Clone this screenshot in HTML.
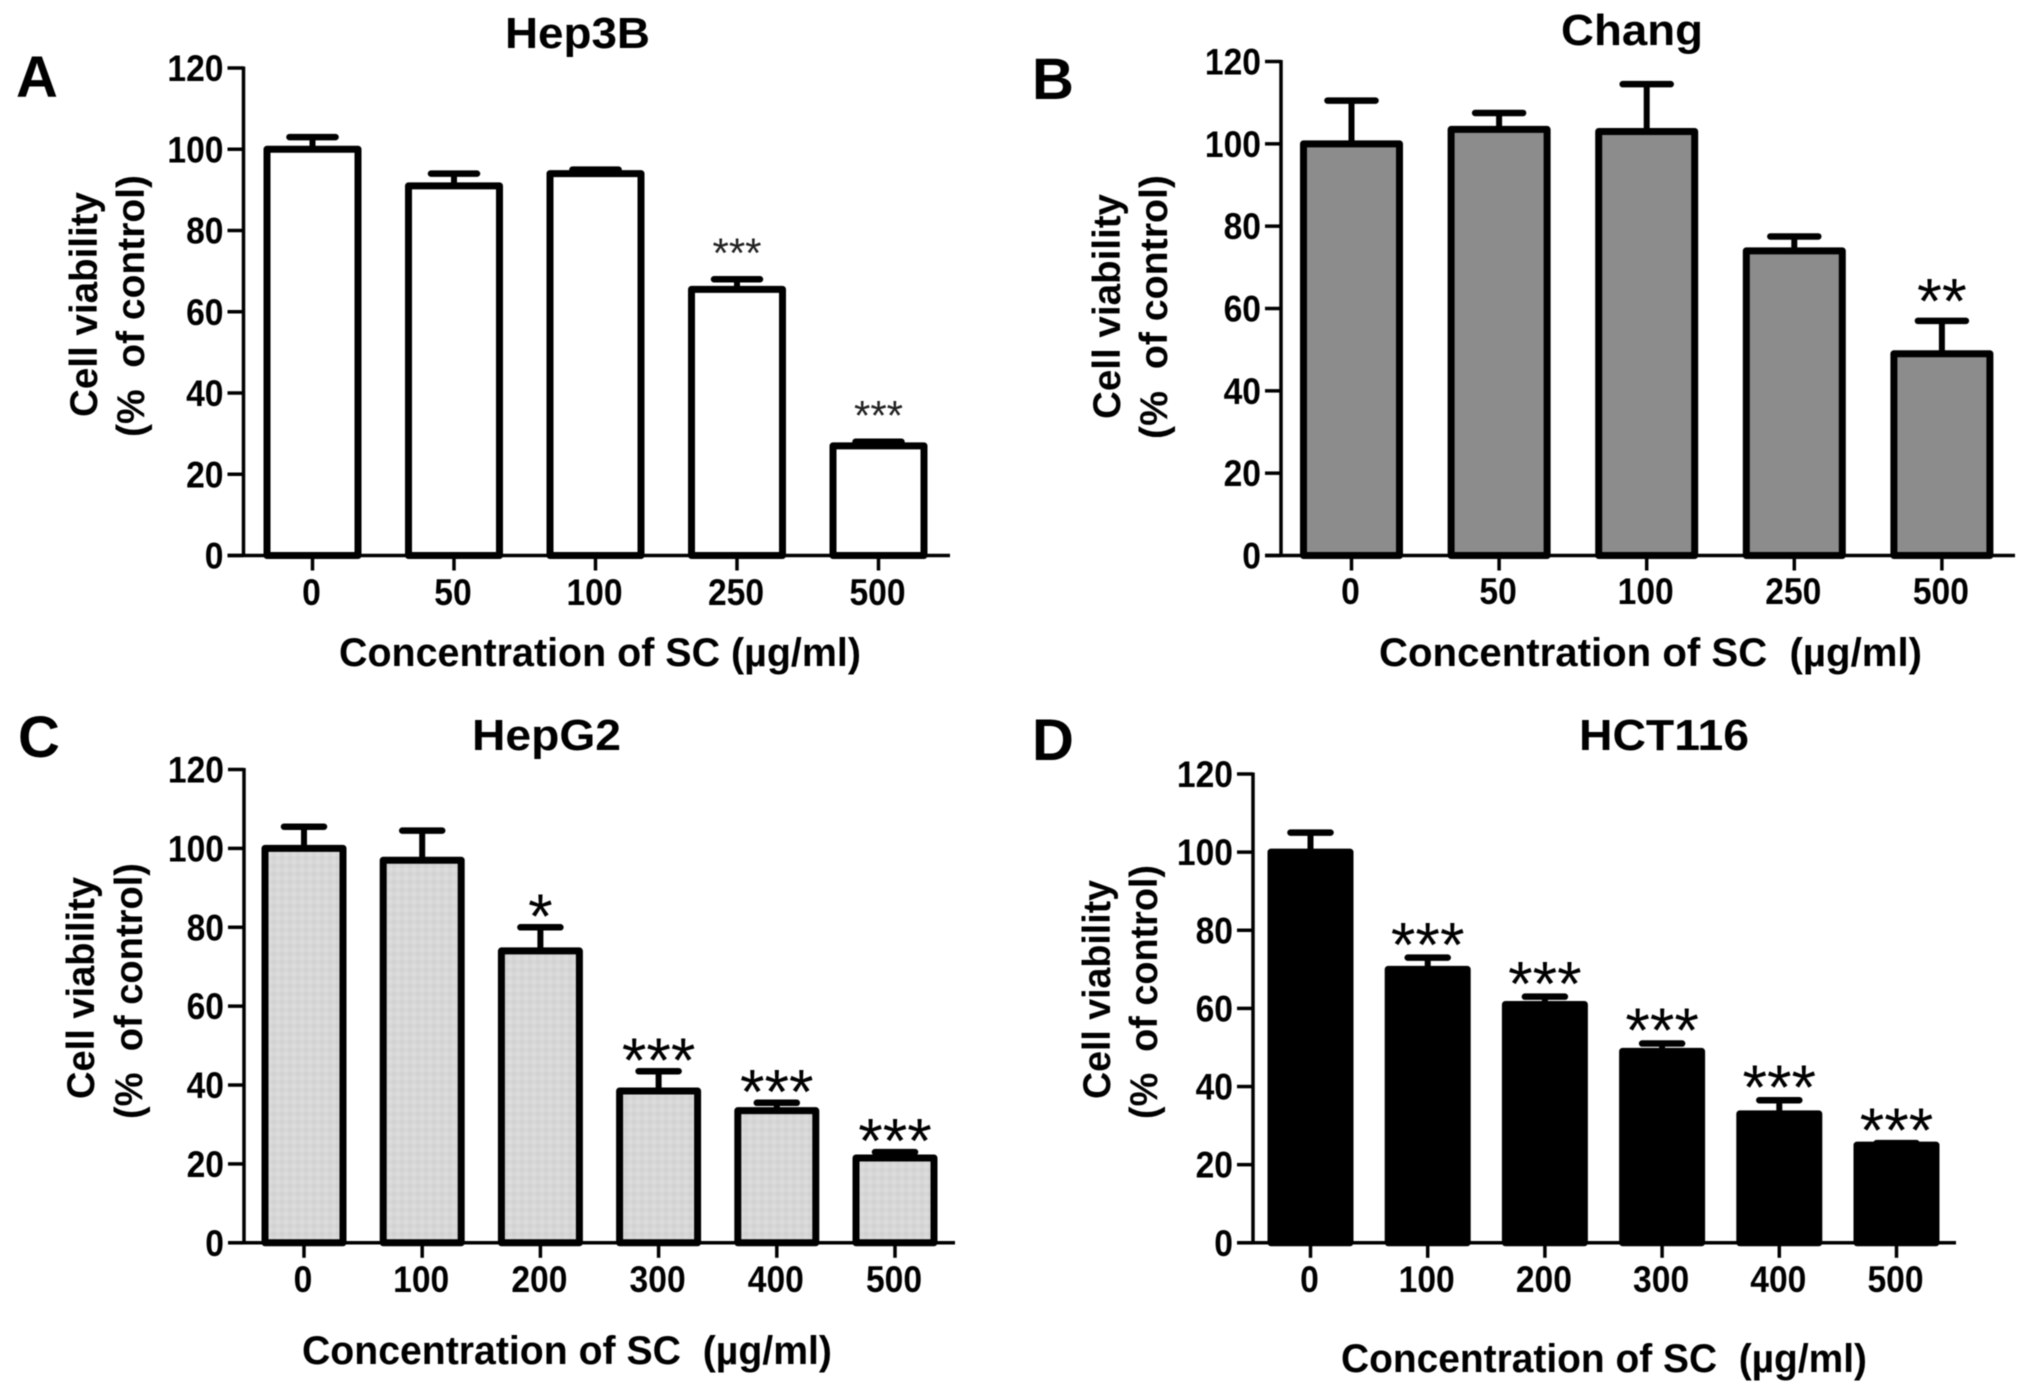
<!DOCTYPE html>
<html lang="en">
<head>
<meta charset="utf-8">
<title>Cell viability panels</title>
<style>
html,body{margin:0;padding:0;background:#fff;width:2031px;height:1389px;overflow:hidden}
svg{display:block;filter:blur(.6px)}
text{font-family:"Liberation Sans",sans-serif;font-weight:bold;fill:#000;white-space:pre}
.title{font-size:44px}
.letter{font-size:58px}
.axt{font-size:40px}
.ayt{font-size:39px}
</style>
</head>
<body>
<svg id="figure" xmlns="http://www.w3.org/2000/svg" width="2031" height="1389" viewBox="0 0 2031 1389">
<defs>
<pattern id="dots" width="8" height="8" patternUnits="userSpaceOnUse">
<rect width="8" height="8" fill="#d7d7d7"/>
<rect x="0" y="0" width="4" height="4" fill="#d2d2d2"/>
<rect x="4" y="4" width="4" height="4" fill="#dcdcdc"/>
</pattern>
</defs>

<text class="letter" x="16" y="97">A</text>
<text class="title" x="505" y="48" textLength="145" lengthAdjust="spacingAndGlyphs">Hep3B</text>
<text class="ayt" transform="translate(97,417) rotate(-90)" textLength="225" lengthAdjust="spacingAndGlyphs">Cell viability</text>
<text class="ayt" transform="translate(144,437) rotate(-90)" textLength="262" lengthAdjust="spacingAndGlyphs">(%  of control)</text>
<text class="axt" x="339" y="666" textLength="522" lengthAdjust="spacingAndGlyphs">Concentration of SC (µg/ml)</text>
<g id="panel-a"></g>

<text class="letter" x="1032" y="99">B</text>
<text class="title" x="1561" y="45" textLength="142" lengthAdjust="spacingAndGlyphs">Chang</text>
<text class="ayt" transform="translate(1120,419) rotate(-90)" textLength="225" lengthAdjust="spacingAndGlyphs">Cell viability</text>
<text class="ayt" transform="translate(1167,439) rotate(-90)" textLength="264" lengthAdjust="spacingAndGlyphs">(%  of control)</text>
<text class="axt" x="1379" y="666" textLength="543" lengthAdjust="spacingAndGlyphs">Concentration of SC  (µg/ml)</text>
<g id="panel-b"></g>

<text class="letter" x="18" y="757">C</text>
<text class="title" x="472" y="750" textLength="149" lengthAdjust="spacingAndGlyphs">HepG2</text>
<text class="ayt" transform="translate(94,1099) rotate(-90)" textLength="222" lengthAdjust="spacingAndGlyphs">Cell viability</text>
<text class="ayt" transform="translate(142,1119) rotate(-90)" textLength="256" lengthAdjust="spacingAndGlyphs">(%  of control)</text>
<text class="axt" x="302" y="1364" textLength="530" lengthAdjust="spacingAndGlyphs">Concentration of SC  (µg/ml)</text>
<g id="panel-c"></g>

<text class="letter" x="1032" y="760">D</text>
<text class="title" x="1579" y="750" textLength="170" lengthAdjust="spacingAndGlyphs">HCT116</text>
<text class="ayt" transform="translate(1110,1099) rotate(-90)" textLength="219" lengthAdjust="spacingAndGlyphs">Cell viability</text>
<text class="ayt" transform="translate(1157,1119) rotate(-90)" textLength="254" lengthAdjust="spacingAndGlyphs">(%  of control)</text>
<text class="axt" x="1341" y="1372" textLength="526" lengthAdjust="spacingAndGlyphs">Concentration of SC  (µg/ml)</text>
<g id="panel-d"></g>
</svg>

<script>
const yTickValues = [0, 20, 40, 60, 80, 100, 120];

const categoriesA = ['0', '50', '100', '250', '500'];
const valuesA = [100, 91, 94, 65.5, 27];
const errorTopsA = [103, 94, 95, 68, 28];
const starsA = ['', '', '', '***', '***'];

const categoriesB = ['0', '50', '100', '250', '500'];
const valuesB = [100, 103.5, 103, 74, 49];
const errorTopsB = [110.5, 107.5, 114.5, 77.5, 57];
const starsB = ['', '', '', '', '**'];

const categoriesC = ['0', '100', '200', '300', '400', '500'];
const valuesC = [100, 97, 74, 38.5, 33.5, 21.5];
const errorTopsC = [105.5, 104.5, 80, 43.5, 35.5, 23];
const starsC = ['', '', '*', '***', '***', '***'];

const categoriesD = ['0', '100', '200', '300', '400', '500'];
const valuesD = [100, 70, 61, 49, 33, 25];
const errorTopsD = [105, 73, 63, 51, 36.5, 25.5];
const starsD = ['', '***', '***', '***', '***', '***'];

const SVG_NS = 'http://www.w3.org/2000/svg';

function make(parent, tag, attrs, txt) {
  const el = document.createElementNS(SVG_NS, tag);
  for (const k in attrs) el.setAttribute(k, attrs[k]);
  if (txt !== undefined) el.textContent = txt;
  parent.appendChild(el);
  return el;
}

function tickText(parent, x, y, anchor, str) {
  return make(parent, 'text', {
    x: x, y: y, 'text-anchor': anchor, 'font-size': 37,
    textLength: str.length * 18.7, lengthAdjust: 'spacingAndGlyphs'
  }, str);
}

function drawPanel(id, categories, values, errorTops, stars, o) {
  const g = document.getElementById(id);
  const sy = v => o.y0 + (o.y120 - o.y0) * v / 120;
  const sx = i => o.firstX + o.stepX * i;
  const tickLeft = o.axisX - 16;

  yTickValues.forEach(v => {
    const tick = make(g, 'line', {x1: tickLeft, x2: o.axisX, y1: sy(v), y2: sy(v), stroke: '#000', 'stroke-width': 3.5});
    
    
    const label = tickText(g, tickLeft - 4, sy(v) + 13, 'end', String(v));
    
    
  });

  categories.forEach((c, i) => {
    const top = sy(errorTops[i]);
    const barY = sy(values[i]);

    const stem = make(g, 'line', {x1: sx(i), x2: sx(i), y1: barY, y2: top, stroke: '#000', 'stroke-width': 6});
    
    

    const cap = make(g, 'line', {x1: sx(i) - o.capW / 2, x2: sx(i) + o.capW / 2, y1: top, y2: top, stroke: '#000', 'stroke-width': 6.5, 'stroke-linecap': 'round'});
    
    

    const bar = make(g, 'rect', {x: sx(i) - o.barW / 2, y: barY, width: o.barW, height: o.y0 - barY, fill: o.fill, stroke: '#000', 'stroke-width': 7, 'stroke-linejoin': 'round'});
    
    

    const tick = make(g, 'line', {x1: sx(i), x2: sx(i), y1: o.y0, y2: o.y0 + 15, stroke: '#000', 'stroke-width': 3.5});
    
    

    const label = tickText(g, sx(i) - 1, o.labelY, 'middle', c);
    
    

    if (stars[i]) {
      const star = make(g, 'text', {x: sx(i), y: top - o.starLift + o.starSize * 0.55, 'text-anchor': 'middle', 'font-size': o.starSize, style: 'font-weight:normal;fill:' + o.starColor}, stars[i]);
      
      
    }
  });

  const yAxis = make(g, 'line', {x1: o.axisX, x2: o.axisX, y1: o.y120 - 1.5, y2: o.y0 + 1.5, stroke: '#000', 'stroke-width': 3.5});
  
  

  const xAxis = make(g, 'line', {x1: tickLeft, x2: o.axisEnd, y1: o.y0, y2: o.y0, stroke: '#000', 'stroke-width': 3.5});
  
  
}

drawPanel('panel-a', categoriesA, valuesA, errorTopsA, starsA, {
  axisX: 243.5, axisEnd: 950, y0: 555.5, y120: 68, firstX: 312.5, stepX: 141.5,
  barW: 91, capW: 46, fill: '#fff', labelY: 605, starSize: 42, starLift: 35, starColor: '#222'
});
drawPanel('panel-b', categoriesB, valuesB, errorTopsB, starsB, {
  axisX: 1281, axisEnd: 2015, y0: 555.5, y120: 61.5, firstX: 1351.5, stepX: 147.6,
  barW: 96, capW: 48, fill: '#8c8c8c', labelY: 604, starSize: 64, starLift: 33, starColor: '#000'
});
drawPanel('panel-c', categoriesC, valuesC, errorTopsC, starsC, {
  axisX: 244, axisEnd: 955, y0: 1242.8, y120: 769.5, firstX: 304, stepX: 118.2,
  barW: 78, capW: 40, fill: 'url(#dots)', labelY: 1292, starSize: 63, starLift: 24, starColor: '#000'
});
drawPanel('panel-d', categoriesD, valuesD, errorTopsD, starsD, {
  axisX: 1253, axisEnd: 1956, y0: 1242.8, y120: 774, firstX: 1310.5, stepX: 117.2,
  barW: 79, capW: 40, fill: '#000', labelY: 1292, starSize: 63, starLift: 26, starColor: '#000'
});
</script>
</body>
</html>
